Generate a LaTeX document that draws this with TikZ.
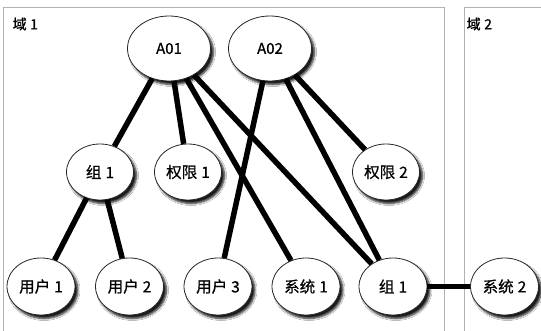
\documentclass[tikz,border=0pt]{standalone}
\usepackage{fontspec}
\setmainfont{Noto Sans CJK SC}[FakeBold=0.7]
\usetikzlibrary{shapes.geometric,shadows.blur}
\newcommand\entfont{\fontsize{15.5}{17}\selectfont\spaceskip 4pt\relax}
\newcommand\domfont{\fontsize{14}{16}\selectfont\spaceskip 3.5pt\relax}
\begin{document}
\begin{tikzpicture}[x=1pt,y=-1pt,
  ent/.style={ellipse,draw=black!85,line width=0.8pt,fill=white,inner sep=0pt,
     font=\entfont,
     blur shadow={shadow xshift=3pt,shadow yshift=-3.5pt,shadow blur steps=6,shadow blur radius=2pt,shadow opacity=90}},
  bigent/.style={ent,minimum width=83pt,minimum height=65pt,font=\fontsize{15}{17}\selectfont},
  mident/.style={ent,minimum width=67pt,minimum height=56pt},
  botent/.style={ent,minimum width=68pt,minimum height=57pt},
  conn/.style={line width=5.5pt},
  dom/.style={draw=black!30,line width=0.8pt},
  domlabel/.style={anchor=west,font=\domfont,inner sep=0pt}]
\useasboundingbox (0,0) rectangle (541,331);
\fill[white] (0,0) rectangle (541,331);
% domains
\draw[dom] (3.5,331) -- (3.5,7.5) -- (444.3,7.5) -- (444.3,331);
\draw[dom] (464,331) -- (464,7.5) -- (541,7.5);
\node[domlabel] (d1) at (12.5,24) {域 1};
\node[domlabel] (d2) at (466.5,24) {域 2};
% nodes
\node[bigent] (a1) at (169,48.5) {A01};
\node[bigent] (a2) at (270,48.5) {A02};
\node[mident] (g1) at (100,172) {组 1};
\node[mident] (p1) at (188,172) {权限 1};
\node[mident] (p2) at (386,172) {权限 2};
\node[botent] (u1) at (41,286.5) {用户 1};
\node[botent] (u2) at (129.5,286.5) {用户 2};
\node[botent] (u3) at (218,286.5) {用户 3};
\node[botent] (s1) at (306,286.5) {系统 1};
\node[botent] (g2) at (393,286.5) {组 1};
\node[botent] (s2) at (504.5,286.5) {系统 2};
% connectors
\draw[conn] (a1) -- (g1);
\draw[conn] (a1) -- (p1);
\draw[conn] (a1) -- (s1);
\draw[conn] (a1) -- (g2);
\draw[conn] (a2) -- (u3);
\draw[conn] (a2) -- (g2);
\draw[conn] (a2) -- (p2);
\draw[conn] (g1) -- (u1);
\draw[conn] (g1) -- (u2);
\draw[conn] (g2) -- (s2);
\end{tikzpicture}
\end{document}
